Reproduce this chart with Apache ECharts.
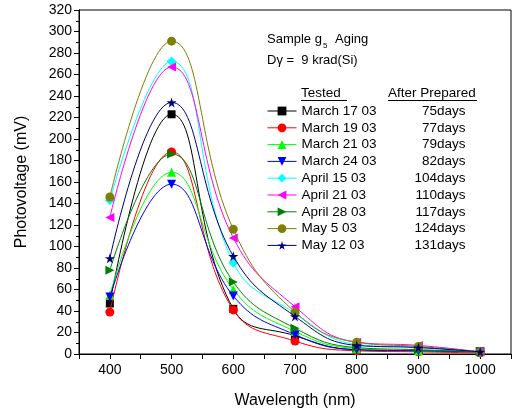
<!DOCTYPE html>
<html>
<head>
<meta charset="utf-8">
<script src="https://cdn.jsdelivr.net/npm/echarts@6/dist/echarts.min.js"></script>
<style>html,body{margin:0;padding:0;background:#fff}#c{width:514px;height:417px}</style>
</head>
<body>
<div id="c"></div>
<script>
const wavelengths = [400, 500, 600, 700, 800, 900, 1000];
const seriesNames = ['March 17 03', 'March 19 03', 'March 21 03', 'March 24 03', 'April 15 03', 'April 21 03', 'April 28 03', 'May 5 03', 'May 12 03'];
const daysAfter = ['75days', '77days', '79days', '82days', '104days', '110days', '117days', '124days', '131days'];
const march17 = [47, 223, 42, 17, 4, 3, 2];
const march19 = [39, 188, 41, 12, 3, 2, 1];
const march21 = [55, 169, 60, 21, 5, 3, 2];
const march24 = [53, 158, 54, 18, 4, 3, 2];
const april15 = [143, 272, 85, 38, 9, 6, 2];
const april21 = [127, 267, 108, 44, 11, 8, 2];
const april28 = [78, 186, 67, 24, 6, 4, 2];
const may5 = [146, 291, 116, 39, 11, 7, 2];
const may12 = [89, 234, 91, 35, 8, 6, 2];
const yTicks = [0, 20, 40, 60, 80, 100, 120, 140, 160, 180, 200, 220, 240, 260, 280, 300, 320];
const xTicks = [400, 500, 600, 700, 800, 900, 1000];

const allData = [march17, march19, march21, march24, april15, april21, april28, may5, may12];
const colors = ['#000000', '#ff0000', '#00ff00', '#0000ff', '#00ffff', '#ff00ff', '#008000', '#808000', '#000080'];
const STAR = 'path://M50,0 L61,35 L98,35 L68,57 L79,91 L50,70 L21,91 L32,57 L2,35 L39,35 Z';
const symbols = ['rect', 'circle', 'triangle', 'triangle', 'diamond', 'triangle', 'triangle', 'circle', STAR];
const rotates = [0, 0, 0, 180, 0, 90, -90, 0, 0];
const sizes = [8, 9, 9, 9, 10, 9, 9, 9, 10];
const FONT = "'Liberation Sans', Arial, sans-serif";

const series = seriesNames.map((n, i) => ({
  name: n,
  type: 'line',
  smooth: 0.45,
  data: wavelengths.map((w, j) => [w, allData[i][j]]),
  symbol: symbols[i],
  symbolRotate: rotates[i],
  symbolSize: sizes[i],
  showAllSymbol: true,
  lineStyle: { color: colors[i], width: 1 },
  itemStyle: { color: colors[i] },
  emphasis: { disabled: true },
  z: 2 + i
}));

const chart = echarts.init(document.getElementById('c'), null, { renderer: 'canvas' });
chart.setOption({
  animation: false,
  backgroundColor: '#fff',
  textStyle: { fontFamily: FONT },
  grid: { left: 79, right: 2, top: 10, bottom: 63, show: true, borderColor: '#000', borderWidth: 1, backgroundColor: 'transparent' },
  xAxis: {
    type: 'value', min: 350, max: 1050, interval: 50,
    name: 'Wavelength (nm)', nameLocation: 'middle', nameGap: 39,
    nameTextStyle: { fontSize: 16, color: '#000', fontFamily: FONT },
    axisLine: { lineStyle: { color: '#000', width: 1 } },
    axisTick: { show: true, inside: false, length: 5, lineStyle: { color: '#000' } },
    axisLabel: { color: '#000', fontSize: 14, fontFamily: FONT, margin: 9,
      formatter: v => xTicks.indexOf(v) >= 0 ? String(v) : '' },
    splitLine: { show: false }
  },
  yAxis: {
    type: 'value', min: 0, max: 320, interval: 20,
    name: 'Photovoltage (mV)', nameLocation: 'middle', nameGap: 49,
    nameTextStyle: { fontSize: 16, color: '#000', fontFamily: FONT },
    axisLine: { show: true, lineStyle: { color: '#000', width: 1 } },
    axisTick: { show: true, inside: false, length: 5, lineStyle: { color: '#000' } },
    minorTick: { show: true, splitNumber: 2, length: 3, lineStyle: { color: '#000' } },
    axisLabel: { color: '#000', fontSize: 14, fontFamily: FONT, margin: 7,
      formatter: v => yTicks.indexOf(v) >= 0 ? String(v) : '' },
    splitLine: { show: false }
  },
  legend: {
    orient: 'vertical', left: 267, top: 104, padding: 0,
    itemWidth: 29, itemHeight: 11, itemGap: 2.8,
    selectedMode: false,
    lineStyle: { width: 1 },
    data: seriesNames,
    formatter: name => '{a|' + name + '}{b|' + daysAfter[seriesNames.indexOf(name)] + '}',
    textStyle: {
      color: '#000', fontSize: 13.5, fontFamily: FONT, padding: [0, 0, 0, 0],
      rich: {
        a: { width: 100, fontSize: 13.5, fontFamily: FONT, color: '#000', lineHeight: 14 },
        b: { width: 64, align: 'right', fontSize: 13.5, fontFamily: FONT, color: '#000', lineHeight: 14 }
      }
    }
  },
  graphic: [
    { type: 'text', left: 267, top: 33, style: { text: 'Sample g', font: '13px ' + FONT, fill: '#000' } },
    { type: 'text', left: 323, top: 42, style: { text: '5', font: '8px ' + FONT, fill: '#000' } },
    { type: 'text', left: 335, top: 33, style: { text: 'Aging', font: '13px ' + FONT, fill: '#000' } },
    { type: 'text', left: 267, top: 54, style: { text: 'D\u03b3 =  9 krad(Si)', font: '13px ' + FONT, fill: '#000' } },
    { type: 'text', left: 301, top: 86, style: { text: 'Tested', font: '13.5px ' + FONT, fill: '#000' } },
    { type: 'line', shape: { x1: 301, y1: 100.5, x2: 347, y2: 100.5 }, style: { stroke: '#000', lineWidth: 1 } },
    { type: 'text', left: 388, top: 86, style: { text: 'After Prepared', font: '13.5px ' + FONT, fill: '#000' } },
    { type: 'line', shape: { x1: 388, y1: 100.5, x2: 477, y2: 100.5 }, style: { stroke: '#000', lineWidth: 1 } }
  ],
  series: series
});
</script>
</body>
</html>
